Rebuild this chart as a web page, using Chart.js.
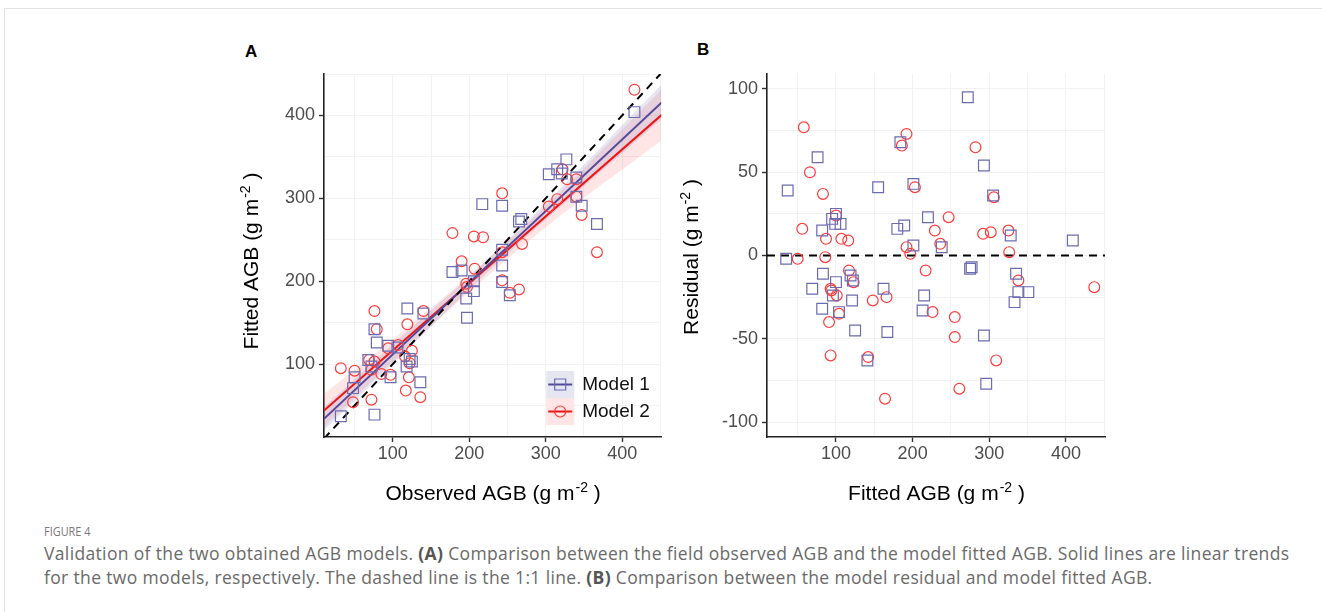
<!DOCTYPE html>
<html>
<head>
<meta charset="utf-8">
<script src="https://cdn.jsdelivr.net/npm/chart.js@4.4.1/dist/chart.umd.min.js"></script>
<style>
  body { margin: 0; background: #fff; width: 1322px; height: 612px; overflow: hidden; position: relative; font-family: "Liberation Sans", Arial, sans-serif; }
  .frame { position: absolute; left: 4px; top: 8px; right: 0; bottom: 0; border-top: 1px solid #e2e2e2; border-left: 1px solid #e2e2e2; }
  #wrapA { position: absolute; left: 200px; top: 30px; width: 470px; height: 480px; }
  #wrapB { position: absolute; left: 660px; top: 30px; width: 460px; height: 480px; }
  .tag { position: absolute; font-weight: bold; font-size: 17px; color: #000; }
  .cap { position: absolute; left: 44px; font-family: "Open Sans", sans-serif; color: #6a6a6a; white-space: nowrap; }
  .cap b { color: #555; }
</style>
</head>
<body>
<div class="frame"></div>
<div class="tag" style="left:245px;top:42px">A</div>
<div class="tag" style="left:697px;top:40px">B</div>
<div id="wrapA"><canvas id="chartA" width="470" height="480"></canvas></div>
<div id="wrapB"><canvas id="chartB" width="460" height="480"></canvas></div>
<div class="cap" style="top:522px;font-size:13px;color:#7a7a7a;transform:scaleX(0.84);transform-origin:left center">FIGURE 4</div>
<div class="cap" style="top:541px;font-size:17.5px;letter-spacing:0.35px;line-height:24px">Validation of the two obtained AGB models. <b>(A)</b> Comparison between the field observed AGB and the model fitted AGB. Solid lines are linear trends<br>for the two models, respectively. The dashed line is the 1:1 line. <b>(B)</b> Comparison between the model residual and model fitted AGB.</div>

<script>
"use strict";

// Panel A: observed vs fitted AGB
const obsA1 = [32, 76, 48, 50, 72, 68, 97, 79, 94, 106, 76, 118, 122, 125, 136, 119, 140, 197, 196, 206, 206, 178, 190, 243, 253, 243, 243, 265, 268, 217, 243, 304, 315, 321, 327, 340, 340, 347, 367, 416];
const fitA1 = [37, 39, 71, 84, 97, 105, 84, 126, 122, 120, 142, 97, 106, 103, 78, 167, 161, 156, 179, 188, 200, 211, 213, 199, 183, 219, 238, 272, 275, 293, 291, 329, 335, 330, 347, 325, 302, 291, 269, 404];
const obsA2 = [32, 50, 48, 72, 72, 69, 76, 85, 97, 94, 107, 116, 125, 122, 121, 117, 136, 79, 76, 119, 140, 178, 190, 207, 196, 197, 206, 218, 243, 243, 243, 253, 265, 269, 304, 315, 322, 328, 340, 340, 347, 367, 416];
const fitA2 = [95, 92, 54, 57, 93, 105, 103, 88, 87, 119, 123, 109, 116, 101, 84, 68, 60, 142, 164, 148, 164, 258, 224, 215, 197, 193, 254, 253, 306, 235, 201, 186, 190, 245, 290, 299, 335, 323, 323, 302, 280, 235, 431];

// linear trends and their confidence bands
const trendX = [10, 452];
const trend1 = [34, 416];
const trend2 = [44, 401];
const bandX = [10, 100, 200, 300, 452];
const band1Lo = [20, 100, 190, 274, 396];
const band1Hi = [48, 124, 206, 294, 438];
const band2Lo = [24, 103, 187, 265, 370];
const band2Hi = [64, 130, 207, 291, 432];
const oneToOne = [10, 450];

// Panel B: fitted vs residual
const fitB1 = [35, 37, 69, 76, 82, 83, 82, 95, 99, 100, 100, 96, 104, 106, 119, 122, 121, 125, 141, 155, 162, 167, 180, 184, 189, 201, 201, 213, 215, 220, 238, 272, 275, 277, 293, 293, 296, 305, 328, 335, 338, 333, 351, 409];
const resB1 = [-2, 39, -20, 59, 15, -11, -32, 22, 19, 25, -16, -24, -34, 19, -12, -15, -27, -45, -63, 41, -20, -46, 16, 68, 18, 43, 6, -33, -24, 23, 5, 95, -8, -7, 54, -48, -77, 36, 12, -11, -22, -28, -22, 9];
const fitB2 = [50, 56, 58, 66, 83, 86, 87, 91, 93, 93, 94, 100, 101, 104, 107, 116, 117, 123, 142, 148, 164, 166, 186, 192, 192, 197, 203, 217, 226, 229, 236, 247, 255, 255, 261, 282, 292, 302, 306, 309, 325, 326, 338, 437];
const resB2 = [-2, 16, 77, 50, 37, -1, 10, -40, -60, -20, -21, 24, -24, -35, 10, 9, -9, -16, -61, -27, -86, -25, 66, 73, 5, 1, 41, -9, -34, 15, 7, 23, -37, -49, -80, 65, 13, 14, 35, -63, 15, 2, -15, -19];

const seriesNames = ['Model 1', 'Model 2'];

const COL1 = '#6b6bb0', LINE1 = '#55489a', FILL1 = 'rgba(100,100,175,0.16)';
const COL2 = '#ff3b3b', LINE2 = '#ee1414', FILL2 = 'rgba(255,70,70,0.14)';
const FONT = '"Liberation Sans", Arial, sans-serif';

const pts = (xs, ys) => xs.map((x, i) => ({ x: x, y: ys[i] }));

function drawSup(ctx, t, cx, cy, rot) {
    ctx.save();
    ctx.translate(cx, cy);
    if (rot) ctx.rotate(-Math.PI / 2);
    ctx.fillStyle = '#000';
    ctx.textBaseline = 'alphabetic';
    ctx.textAlign = 'left';
    ctx.font = '21px ' + FONT;
    const w1 = ctx.measureText(t[0]).width, w3 = ctx.measureText(t[2]).width;
    ctx.font = '14px ' + FONT;
    const w2 = ctx.measureText(t[1]).width;
    let x = -(w1 + w2 + w3) / 2;
    ctx.font = '21px ' + FONT;
    ctx.fillText(t[0], x, 0); x += w1;
    ctx.font = '14px ' + FONT;
    ctx.fillText(t[1], x + 1, -8); x += w2 + 1;
    ctx.font = '21px ' + FONT;
    ctx.fillText(t[2], x, 0);
    ctx.restore();
}

function drawLegend(chart) {
    const ctx = chart.ctx, a = chart.chartArea;
    const keys = [[FILL1, LINE1, COL1, 'rect'], [FILL2, LINE2, COL2, 'circle']];
    ctx.save();
    keys.forEach(function (k, i) {
        const kx = a.right - 115, ky = a.bottom - 66 + i * 27;
        ctx.fillStyle = '#fff';
        ctx.fillRect(kx, ky, 28, 27);
        ctx.fillStyle = k[0];
        ctx.fillRect(kx, ky, 28, 27);
        ctx.strokeStyle = k[1];
        ctx.lineWidth = 2;
        ctx.beginPath();
        ctx.moveTo(kx + 2, ky + 13.5);
        ctx.lineTo(kx + 26, ky + 13.5);
        ctx.stroke();
        ctx.strokeStyle = k[2];
        ctx.lineWidth = 1.2;
        ctx.beginPath();
        if (k[3] === 'rect') ctx.rect(kx + 8.5, ky + 8, 11, 11);
        else ctx.arc(kx + 14, ky + 13.5, 5.5, 0, Math.PI * 2);
        ctx.stroke();
        ctx.fillStyle = '#111';
        ctx.font = '19px ' + FONT;
        ctx.textBaseline = 'middle';
        ctx.fillText(seriesNames[i], kx + 36, ky + 14);
    });
    ctx.restore();
}

const titlePlugin = {
    id: 'axisTitles',
    afterDraw(chart, args, opts) {
        const a = chart.chartArea;
        drawSup(chart.ctx, opts.x, (a.left + a.right) / 2, a.bottom + 63, false);
        drawSup(chart.ctx, opts.y, opts.yPos, (a.top + a.bottom) / 2 + opts.yShift, true);
        if (opts.legend) drawLegend(chart);
    }
};

function axis(min, max, step, major, size, isY) {
    return {
        type: 'linear',
        min: min,
        max: max,
        border: { color: '#222', width: 1.6 },
        grid: {
            color: '#f2f2f2',
            lineWidth: 1,
            tickLength: 5,
            tickColor: c => (c.tick && c.tick.value % major === 0) ? '#333' : 'rgba(0,0,0,0)',
            tickWidth: 1.4
        },
        ticks: {
            stepSize: step,
            includeBounds: false,
            autoSkip: false,
            maxRotation: 0,
            padding: isY ? 4 : 1,
            color: '#4d4d4d',
            font: { family: FONT, size: 18 },
            callback: v => (v % major === 0 ? String(v) : '')
        },
        afterFit: function (s) { if (isY) s.width = size; else s.height = size; }
    };
}

function scatterSet(label, data, color, style, radius) {
    return {
        type: 'scatter', label: label, data: data, order: 0,
        pointStyle: style, pointRadius: radius, pointHoverRadius: radius,
        pointBorderColor: color, pointBackgroundColor: 'rgba(0,0,0,0)', pointBorderWidth: 1.2
    };
}

function lineSet(data, color, extra) {
    return Object.assign({
        type: 'line', data: data, borderColor: color, borderWidth: 2,
        pointRadius: 0, fill: false, order: 2
    }, extra || {});
}

const common = {
    responsive: false,
    animation: false,
    events: [],
    plugins: { legend: { display: false }, tooltip: { enabled: false } }
};

new Chart(document.getElementById('chartA').getContext('2d'), {
    type: 'scatter',
    data: {
        datasets: [
            scatterSet(seriesNames[0], pts(obsA1, fitA1), COL1, 'rect', 7.6),
            scatterSet(seriesNames[1], pts(obsA2, fitA2), COL2, 'circle', 5.4),
            lineSet(pts(oneToOne, oneToOne), '#000', { borderDash: [8, 6], order: 1 }),
            lineSet(pts(trendX, trend1), LINE1),
            lineSet(pts(trendX, trend2), LINE2),
            lineSet(pts(bandX, band1Hi), 'rgba(0,0,0,0)', { borderWidth: 0, fill: '+1', backgroundColor: FILL1, order: 3, cubicInterpolationMode: 'monotone' }),
            lineSet(pts(bandX, band1Lo), 'rgba(0,0,0,0)', { borderWidth: 0, order: 3, cubicInterpolationMode: 'monotone' }),
            lineSet(pts(bandX, band2Hi), 'rgba(0,0,0,0)', { borderWidth: 0, fill: '+1', backgroundColor: FILL2, order: 3, cubicInterpolationMode: 'monotone' }),
            lineSet(pts(bandX, band2Lo), 'rgba(0,0,0,0)', { borderWidth: 0, order: 3, cubicInterpolationMode: 'monotone' })
        ]
    },
    options: Object.assign({}, common, {
        layout: { padding: { top: 44, right: 7, left: 0, bottom: 0 } },
        scales: {
            x: axis(10, 451, 50, 100, 73, false),
            y: axis(12, 450, 50, 100, 124, true)
        },
        plugins: Object.assign({}, common.plugins, {
            axisTitles: {
                x: ['Observed AGB (g m', '-2', ' )'],
                y: ['Fitted AGB (g m', '-2', ' )'],
                yPos: 58, yShift: 6, legend: true
            }
        })
    }),
    plugins: [titlePlugin]
});

new Chart(document.getElementById('chartB').getContext('2d'), {
    type: 'scatter',
    data: {
        datasets: [
            scatterSet(seriesNames[0], pts(fitB1, resB1), COL1, 'rect', 7.6),
            scatterSet(seriesNames[1], pts(fitB2, resB2), COL2, 'circle', 5.4),
            lineSet(pts([10, 451], [0, 0]), '#000', { borderDash: [8, 6], order: 1 })
        ]
    },
    options: Object.assign({}, common, {
        layout: { padding: { top: 44, right: 15, left: 0, bottom: 0 } },
        scales: {
            x: axis(10, 451, 50, 100, 73, false),
            y: axis(-109, 109, 25, 50, 107, true)
        },
        plugins: Object.assign({}, common.plugins, {
            axisTitles: {
                x: ['Fitted AGB (g m', '-2', ' )'],
                y: ['Residual (g m', '-2', ' )'],
                yPos: 38, yShift: 2, legend: false
            }
        })
    }),
    plugins: [titlePlugin]
});
</script>
</body>
</html>
